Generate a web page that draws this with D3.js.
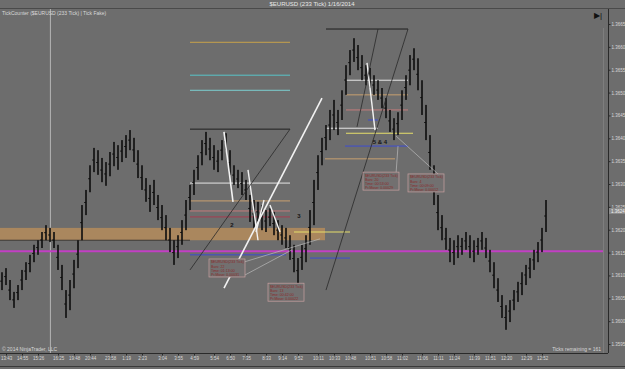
<!DOCTYPE html>
<html lang="en">
<head>
<meta charset="UTF-8">
<title>$EURUSD (233 Tick) 1/16/2014</title>
<script src="https://d3js.org/d3.v7.min.js"></script>
<style>
  html, body { margin: 0; padding: 0; background: #6d6d6d; overflow: hidden; }
  svg { display: block; font-family: "Liberation Sans", Arial, sans-serif; }
  .tiny { font-size: 5px; fill: #d8d8d8; }
</style>
</head>
<body>
<svg id="chart" width="625" height="369"></svg>
<script>
  // bar highs / lows (233 tick bars)
  const hi = [1.36107,1.36116,1.36090,1.36064,1.36079,1.36112,1.36129,1.36145,1.36167,1.36177,
    1.36195,1.36210,1.36204,1.36195,1.36167,1.36123,1.36068,1.36090,1.36134,1.36177,
    1.36254,1.36287,1.36341,1.36379,1.36374,1.36357,1.36348,1.36370,1.36392,1.36385,
    1.36396,1.36407,1.36418,1.36401,1.36374,1.36341,1.36313,1.36298,1.36309,1.36276,
    1.36254,1.36232,1.36204,1.36177,1.36188,1.36221,1.36265,1.36298,1.36331,1.36363,
    1.36396,1.36414,1.36401,1.36385,1.36374,1.36396,1.36411,1.36374,1.36341,1.36331,
    1.36326,1.36309,1.36276,1.36265,1.36261,1.36254,1.36243,1.36247,1.36239,1.36221,
    1.36210,1.36204,1.36188,1.36167,1.36138,1.36167,1.36188,1.36243,1.36309,1.36363,
    1.36401,1.36429,1.36462,1.36484,1.36462,1.36505,1.36560,1.36593,1.36619,1.36604,
    1.36582,1.36560,1.36554,1.36538,1.36527,1.36510,1.36488,1.36462,1.36444,1.36457,
    1.36505,1.36538,1.36582,1.36597,1.36575,1.36527,1.36473,1.36407,1.36341,1.36276,
    1.36232,1.36204,1.36182,1.36177,1.36188,1.36182,1.36195,1.36188,1.36177,1.36182,
    1.36195,1.36182,1.36156,1.36129,1.36094,1.36057,1.36035,1.36046,1.36068,1.36086,
    1.36107,1.36123,1.36138,1.36156,1.36173,1.36204,1.36265];
  const lo = [1.36068,1.36079,1.36046,1.36029,1.36046,1.36068,1.36090,1.36107,1.36129,1.36145,
    1.36160,1.36177,1.36173,1.36160,1.36112,1.36068,1.36007,1.36024,1.36072,1.36116,
    1.36177,1.36232,1.36282,1.36326,1.36320,1.36304,1.36296,1.36317,1.36339,1.36331,
    1.36348,1.36357,1.36374,1.36348,1.36313,1.36287,1.36261,1.36239,1.36254,1.36221,
    1.36199,1.36177,1.36151,1.36123,1.36138,1.36167,1.36199,1.36243,1.36276,1.36309,
    1.36341,1.36363,1.36352,1.36331,1.36326,1.36352,1.36374,1.36320,1.36298,1.36291,
    1.36276,1.36265,1.36217,1.36204,1.36217,1.36199,1.36195,1.36208,1.36188,1.36177,
    1.36167,1.36160,1.36134,1.36107,1.36083,1.36112,1.36129,1.36167,1.36210,1.36287,
    1.36341,1.36374,1.36396,1.36418,1.36407,1.36440,1.36495,1.36538,1.36567,1.36549,
    1.36527,1.36516,1.36510,1.36495,1.36484,1.36466,1.36444,1.36414,1.36396,1.36407,
    1.36440,1.36484,1.36516,1.36549,1.36505,1.36451,1.36396,1.36331,1.36254,1.36199,
    1.36177,1.36156,1.36129,1.36123,1.36138,1.36145,1.36156,1.36138,1.36129,1.36145,
    1.36156,1.36138,1.36107,1.36072,1.36042,1.36007,1.35981,1.35998,1.36024,1.36042,
    1.36057,1.36079,1.36094,1.36112,1.36129,1.36151,1.36195];
  const lastPrice = 1.36241;

  // axis ticks
  const priceTicks = [1.3665,1.3660,1.3655,1.3650,1.3645,1.3640,1.3635,1.3630,1.3625,1.3620,1.3615,1.3610,1.3605,1.3600,1.3595];
  const timeTickBars = [1,5,9,14,18,22,27,31,35,40,44,48,53,57,61,66,70,74,79,83,87,92,96,100,105,109,113,118,122,126,131,135];
  const timeTickLabels = ["13:43","14:55","15:26","16:25","19:48","20:44","23:58","1:19","2:23","3:04","3:55","4:59","5:54","6:50","7:35","8:33",
    "9:14","9:52","10:11","10:33","10:48","10:51","10:58","11:02","11:06","11:11","11:24","11:39","11:51","12:20","12:29","12:52"];

  // drawing objects: [price, fromBar, toBar, colour, width]
  const levels = [
    [1.36610, 47, 72, "#c9a24a", 1],
    [1.36538, 47, 72, "#58c4c8", 1],
    [1.36505, 47, 72, "#7ccfd0", 1],
    [1.36420, 47, 72, "#1e1e1e", 1],
    [1.36302, 47, 72, "#e6e6e6", 1],
    [1.36263, 47, 72, "#c9a070", 1],
    [1.36241, 47, 72, "#c47c7c", 1],
    [1.36228, 47, 72, "#a83c50", 1],
    [1.36145, 47, 71, "#3c4cd0", 1],
    [1.36195, 73, 87, "#e6de6a", 1],
    [1.36138, 77, 87, "#3c4cd0", 1],
    [1.36639, 81, 101.5, "#1e1e1e", 1],
    [1.36527, 86, 101.5, "#e6e6e6", 1],
    [1.36495, 86, 101.5, "#c9a070", 1],
    [1.36462, 86, 101.5, "#c47c7c", 1],
    [1.36422, 81, 94, "#e6e6e6", 1],
    [1.36411, 86, 102.75, "#e6de6a", 1],
    [1.36383, 85.75, 101.5, "#3c4cd0", 1],
    [1.36355, 80.75, 98.25, "#c9a070", 1],
    [1.36440, 91.5, 94, "#3c4cd0", 1]
  ];
  // trend lines: [bar1, price1, bar2, price2, colour, width]
  const trendLines = [
    [55.5, 1.36072, 80, 1.36488, "#f2f2f2", 1.6],
    [55.5, 1.36414, 57.75, 1.36261, "#f2f2f2", 1.6],
    [61.5, 1.36331, 64, 1.36177, "#f2f2f2", 1.4],
    [63.5, 1.36195, 65.5, 1.36265, "#f2f2f2", 1.4],
    [67, 1.36254, 69.5, 1.36195, "#f2f2f2", 1.4],
    [91.25, 1.36565, 93.25, 1.36418, "#f2f2f2", 1.4],
    [72, 1.36420, 47, 1.36112, "#2a2a2a", 0.8],
    [101.5, 1.36639, 81, 1.36068, "#2a2a2a", 0.8],
    [94, 1.36639, 88.75, 1.36425, "#2a2a2a", 0.8],
    [60.75, 1.36101, 72.5, 1.36156, "#c8c8c8", 0.6],
    [60.75, 1.36130, 79.5, 1.36180, "#c8c8c8", 0.6],
    [98.5, 1.36322, 99, 1.36383, "#c8c8c8", 0.6],
    [109.5, 1.36318, 98.5, 1.36405, "#c8c8c8", 0.6]
  ];
  // info boxes: [bar, price (top-left), bars, time, move]
  const infoBoxes = [
    [51.75, 1.36136, 22, "01:13:00", "0.00031"],
    [66.5, 1.36083, 13, "00:42:00", "0.00022"],
    [90.25, 1.36326, 20, "00:53:00", "0.00029"],
    [101.5, 1.36322, 4, "00:09:00", "0.00012"]
  ];
  // wave labels: [bar, price, text]
  const waveLabels = [[57.5, 1.36206, "2"], [74.25, 1.36226, "3"], [94.5, 1.36387, "5 & 4"]];
  const band = { top: 1.36204, bottom: 1.36177, toBar: 80.75 };
  const magenta = 1.36153;

  const svg = d3.select("#chart");
  const W = 625, H = 369;
  const plotTop = 9, plotBottom = 353, plotRight = 603, axisX = 608;

  const x = d3.scaleLinear().domain([0, hi.length - 1]).range([2, 546]);
  const y = d3.scaleLinear().domain([1.3595, 1.3665]).range([344, 24]);

  // frame
  svg.append("rect").attr("width", W).attr("height", H).attr("fill", "#6d6d6d");
  svg.append("line").attr("x1", 0).attr("x2", W).attr("y1", 8.5).attr("y2", 8.5).attr("stroke", "#4a4a4a");
  svg.append("line").attr("x1", 0).attr("x2", W).attr("y1", 366.5).attr("y2", 366.5).attr("stroke", "#3a3a3a");
  svg.append("line").attr("x1", plotRight + 0.5).attr("x2", plotRight + 0.5).attr("y1", 28).attr("y2", plotBottom)
    .attr("stroke", "#8a8a8a").attr("stroke-width", 0.6);

  svg.append("text").attr("x", 312).attr("y", 6).attr("text-anchor", "middle")
    .attr("font-size", 6).attr("fill", "#e8e8e8").text("$EURUSD (233 Tick)  1/16/2014");
  svg.append("text").attr("class", "tiny").attr("x", 2).attr("y", 14.5)
    .text("TickCounter ($EURUSD (233 Tick) | Tick Fake)");
  svg.append("text").attr("class", "tiny").attr("x", 2).attr("y", 351).text("© 2014 NinjaTrader, LLC");
  svg.append("text").attr("class", "tiny").attr("x", 601).attr("y", 351).attr("text-anchor", "end")
    .text("Ticks remaining = 161");
  svg.append("text").attr("x", 598).attr("y", 18).attr("text-anchor", "middle")
    .attr("font-size", 8).attr("fill", "#111").text("▶|");

  const defs = svg.append("defs");
  defs.append("clipPath").attr("id", "plotClip").append("rect")
    .attr("x", 0).attr("y", plotTop).attr("width", plotRight).attr("height", plotBottom - plotTop);
  const g = svg.append("g").attr("clip-path", "url(#plotClip)");

  // cursor line
  g.append("line").attr("x1", x(12.1)).attr("x2", x(12.1)).attr("y1", plotTop).attr("y2", plotBottom)
    .attr("stroke", "#c8c8c8").attr("stroke-width", 0.8);

  // supply zone
  g.append("rect").attr("x", 0).attr("y", y(band.top)).attr("width", x(band.toBar))
    .attr("height", y(band.bottom) - y(band.top)).attr("fill", "#b08a5c").attr("opacity", 0.9);
  g.append("line").attr("x1", 0).attr("x2", x(47)).attr("y1", y(band.bottom)).attr("y2", y(band.bottom))
    .attr("stroke", "#2a2a2a").attr("stroke-width", 0.8);

  g.append("line").attr("x1", 0).attr("x2", plotRight).attr("y1", y(magenta)).attr("y2", y(magenta))
    .attr("stroke", "#c23fc4").attr("stroke-width", 2);

  g.selectAll(".lvl").data(levels).join("line").attr("class", "lvl")
    .attr("x1", d => x(d[1])).attr("x2", d => x(d[2]))
    .attr("y1", d => y(d[0])).attr("y2", d => y(d[0]))
    .attr("stroke", d => d[3]).attr("stroke-width", d => d[4]);

  // bars: thin range line plus small side ticks
  const bars = g.selectAll(".bar").data(hi).join("g").attr("class", "bar");
  bars.append("rect")
    .attr("x", (d, i) => x(i) - 0.8).attr("width", 1.6)
    .attr("y", d => y(d)).attr("height", (d, i) => y(lo[i]) - y(d))
    .attr("fill", "#0e0e0e");
  bars.append("line")
    .attr("x1", (d, i) => x(i) - 1.8).attr("x2", (d, i) => x(i))
    .attr("y1", (d, i) => y((d + lo[i]) / 2)).attr("y2", (d, i) => y((d + lo[i]) / 2))
    .attr("stroke", "#0e0e0e").attr("stroke-width", 1);

  g.selectAll(".trend").data(trendLines).join("line").attr("class", "trend")
    .attr("x1", d => x(d[0])).attr("y1", d => y(d[1]))
    .attr("x2", d => x(d[2])).attr("y2", d => y(d[3]))
    .attr("stroke", d => d[4]).attr("stroke-width", d => d[5]);

  // info boxes
  const box = g.selectAll(".info").data(infoBoxes).join("g").attr("class", "info")
    .attr("transform", d => `translate(${x(d[0])},${y(d[1])})`);
  box.append("rect").attr("width", 36).attr("height", 18)
    .attr("fill", "#727070").attr("stroke", "#c9a0a0").attr("stroke-width", 0.7);
  box.each(function (d) {
    const lines = ["$EURUSD(233 Tick)", "Bars:   " + d[2], "Time:   " + d[3], "Pr.Move: " + d[4]];
    d3.select(this).selectAll("text").data(lines).join("text")
      .attr("x", 2).attr("y", (t, k) => 4.5 + k * 4.1)
      .attr("font-size", 3.6).attr("fill", "#8a2a2a").text(t => t);
  });

  g.selectAll(".wave").data(waveLabels).join("text").attr("class", "wave")
    .attr("x", d => x(d[0])).attr("y", d => y(d[1]))
    .attr("text-anchor", "middle").attr("font-size", 6).attr("font-weight", "bold")
    .attr("fill", "#151515").text(d => d[2]);

  // price axis
  svg.append("line").attr("x1", axisX + 0.5).attr("x2", axisX + 0.5).attr("y1", plotTop).attr("y2", plotBottom)
    .attr("stroke", "#2a2a2a");
  const yAxis = svg.append("g").attr("transform", `translate(${axisX + 0.5},0)`)
    .call(d3.axisRight(y).tickValues(priceTicks).tickFormat(d3.format(".4f")).tickSize(2).tickPadding(1));
  yAxis.select(".domain").remove();
  yAxis.selectAll("line").attr("stroke", "#2a2a2a");
  yAxis.selectAll("text").attr("font-size", 4.5).attr("fill", "#d8d8d8").attr("font-family", "Liberation Sans, Arial");

  // last price marker
  svg.append("rect").attr("x", axisX + 1).attr("y", y(lastPrice) - 3).attr("width", 16).attr("height", 6)
    .attr("fill", "#8c8c8c");
  svg.append("text").attr("x", axisX + 3).attr("y", y(lastPrice) + 1.6).attr("font-size", 4.5)
    .attr("fill", "#f4f4f4").text(d3.format(".4f")(lastPrice));

  // time axis
  svg.append("line").attr("x1", 0).attr("x2", axisX).attr("y1", plotBottom + 0.5).attr("y2", plotBottom + 0.5)
    .attr("stroke", "#2a2a2a");
  const xAxis = svg.append("g").attr("transform", `translate(0,${plotBottom + 0.5})`)
    .call(d3.axisBottom(x).tickValues(timeTickBars).tickFormat((d, i) => timeTickLabels[i]).tickSize(2).tickPadding(1.5));
  xAxis.select(".domain").remove();
  xAxis.selectAll("line").attr("stroke", "#2a2a2a");
  xAxis.selectAll("text").attr("font-size", 4.5).attr("fill", "#d8d8d8").attr("font-family", "Liberation Sans, Arial");
</script>
</body>
</html>
